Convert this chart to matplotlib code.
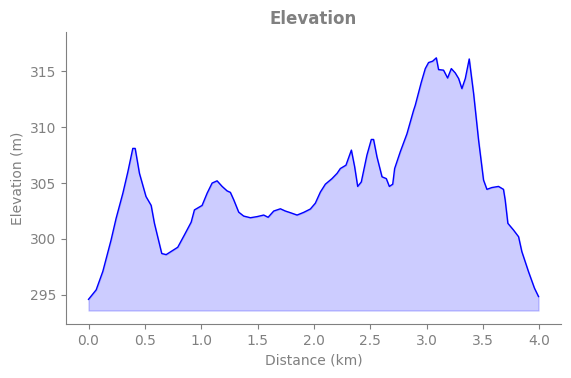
import matplotlib.pyplot as plt

distance = [0.0, 0.068, 0.127, 0.2, 0.245, 0.305, 0.349, 0.393, 0.414, 0.452,
            0.51, 0.556, 0.585, 0.65, 0.689, 0.792, 0.851, 0.911, 0.94, 1.008,
            1.053, 1.097, 1.141, 1.186, 1.23, 1.259, 1.289, 1.333, 1.377, 1.437,
            1.496, 1.555, 1.594, 1.644, 1.703, 1.747, 1.792, 1.851, 1.91, 1.969,
            2.013, 2.058, 2.102, 2.161, 2.206, 2.235, 2.285, 2.333, 2.362, 2.389,
            2.421, 2.471, 2.51, 2.53, 2.56, 2.605, 2.643, 2.67, 2.7, 2.717,
            2.767, 2.826, 2.885, 2.9, 2.953, 2.989, 3.018, 3.054, 3.087, 3.107,
            3.151, 3.187, 3.22, 3.255, 3.285, 3.314, 3.344, 3.379, 3.418, 3.462,
            3.506, 3.536, 3.58, 3.639, 3.683, 3.698, 3.722, 3.772, 3.817, 3.846,
            3.905, 3.958, 3.994]
elevation = [294.6, 295.45, 297.1, 299.9, 301.85, 304.1, 306.0, 308.1, 308.1, 305.87,
             303.8, 303.0, 301.4, 298.7, 298.6, 299.26, 300.36, 301.5, 302.6, 303.0,
             304.1, 305.0, 305.2, 304.7, 304.3, 304.17, 303.5, 302.4, 302.05, 301.9,
             302.0, 302.14, 301.94, 302.5, 302.7, 302.5, 302.35, 302.14, 302.38, 302.68,
             303.2, 304.2, 304.9, 305.4, 305.87, 306.3, 306.6, 307.95, 306.46, 304.7,
             305.1, 307.5, 308.9, 308.9, 307.35, 305.56, 305.4, 304.7, 304.9, 306.3,
             307.8, 309.4, 311.5, 311.96, 314.0, 315.24, 315.78, 315.9, 316.2, 315.15,
             315.1, 314.4, 315.24, 314.85, 314.35, 313.45, 314.35, 316.1, 313.0, 308.84,
             305.27, 304.44, 304.6, 304.7, 304.44, 303.5, 301.4, 300.8, 300.2, 298.87,
             297.08, 295.6, 294.85]

grey = '#808080'

fig, ax = plt.subplots(figsize=(5.71, 3.78), dpi=100)
fig.subplots_adjust(left=0.1156, right=0.9825, top=0.915, bottom=0.143)

base = min(elevation) - 1
ax.plot(distance, elevation, color='blue', linewidth=1)
ax.fill_between(distance, elevation, base, color='blue', alpha=0.2)

ax.set_ylim(292.4, 318.5)
ax.set_title('Elevation', color=grey, fontsize=12, fontweight='bold')
ax.set_xlabel('Distance (km)', color=grey)
ax.set_ylabel('Elevation (m)', color=grey)

for s in ['top', 'right']:
    ax.spines[s].set_visible(False)
for s in ['left', 'bottom']:
    ax.spines[s].set_color(grey)
ax.tick_params(colors=grey)

fig.savefig('out.png')
